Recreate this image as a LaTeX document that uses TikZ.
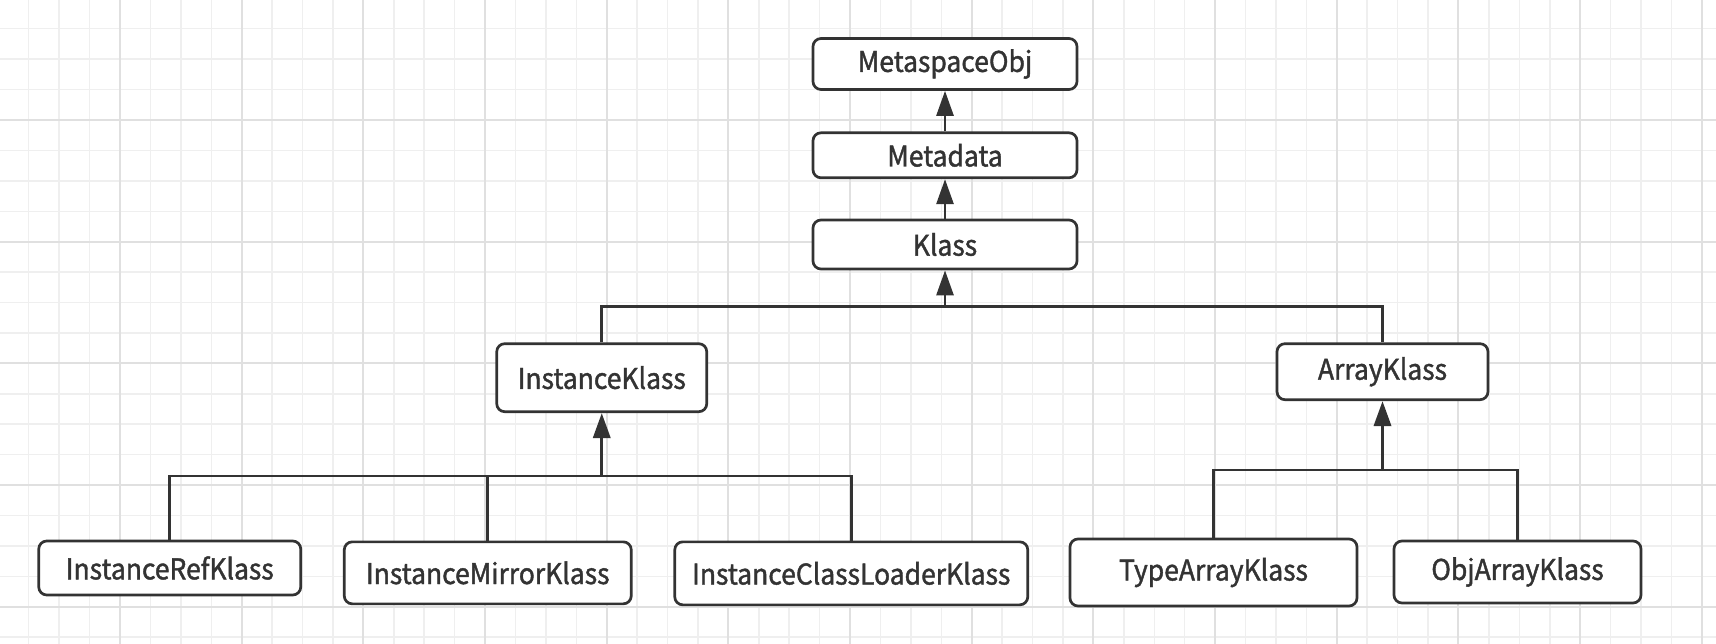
\documentclass[tikz,border=0pt]{standalone}
\usepackage{fontspec}
\newfontfamily\lblfont{Noto Sans CJK SC}[FakeBold=1.4,FakeStretch=0.93]
\usetikzlibrary{arrows.meta}
\definecolor{ink}{HTML}{333333}
\definecolor{gridminor}{HTML}{EFEFEF}
\definecolor{gridmajor}{HTML}{E0E0E0}
\begin{document}
\begin{tikzpicture}[x=1pt,y=-1pt,
  cls/.style={draw=ink, line width=2.7pt, rounded corners=8pt, fill=white, text=ink,
    font=\lblfont\fontsize{28.5}{32}\selectfont, inner sep=0pt},
  link/.style={draw=ink, line width=2.7pt},
  inh/.style={link, -{Triangle[length=25pt,width=17pt]}}]
\fill[white] (0,0) rectangle (1716,644);
\useasboundingbox (0,0) rectangle (1716,644);
\begin{scope}
\clip (0,0) rectangle (1716,644);
\foreach \k in {-4,...,53} {
  \pgfmathsetmacro\p{120+30.42*\k}
  \draw[gridminor, line width=1.5pt] (\p,0) -- (\p,644);
  \draw[gridminor, line width=1.5pt] (0,\p) -- (1716,\p);
}
\foreach \k in {-1,...,13} {
  \pgfmathsetmacro\p{120+121.68*\k}
  \draw[gridmajor, line width=2pt] (\p,0) -- (\p,644);
  \draw[gridmajor, line width=2pt] (0,\p) -- (1716,\p);
}
\end{scope}

\node[cls, minimum width=264pt, minimum height=51pt] (mso) at (945,64) {MetaspaceObj};
\node[cls, minimum width=264pt, minimum height=45pt] (md) at (945,155.3) {Metadata};
\node[cls, minimum width=264pt, minimum height=49pt] (kl) at (945,244.5) {Klass};
\node[cls, minimum width=210pt, minimum height=68pt] (ik) at (601.75,377.7) {InstanceKlass};
\node[cls, minimum width=211pt, minimum height=56pt] (ak) at (1382.5,371.7) {ArrayKlass};
\node[cls, minimum width=262pt, minimum height=54pt] (irk) at (169.75,568) {InstanceRefKlass};
\node[cls, minimum width=287pt, minimum height=62pt] (imk) at (487.75,572.85) {InstanceMirrorKlass};
\node[cls, minimum width=353pt, minimum height=63pt] (iclk) at (851.25,573.35) {InstanceClassLoaderKlass};
\node[cls, minimum width=287pt, minimum height=67pt] (tak) at (1213.5,572.5) {TypeArrayKlass};
\node[cls, minimum width=247pt, minimum height=62pt] (oak) at (1517.5,572) {ObjArrayKlass};

\coordinate (ky) at (0,306.7);
\coordinate (iy) at (0,476);
\coordinate (ay) at (0,470);
\coordinate (kbus) at (kl.south |- ky);
\coordinate (ibus) at (ik.south |- iy);
\coordinate (abus) at (ak.south |- ay);

\draw[inh] (md.north) -- (mso.south);
\draw[inh] (kl.north) -- (md.south);
\draw[link] (ik.north) |- (kbus) -| (ak.north);
\draw[inh] (kbus) -- (kl.south);
\draw[link] (irk.north) |- (ibus) -| (iclk.north);
\draw[link] (imk.north) -- (imk.north |- iy);
\draw[inh, line width=3.4pt] (ibus) -- (ik.south);
\draw[link] (tak.north) |- (abus) -| (oak.north);
\draw[inh, line width=3.4pt] (abus) -- (ak.south);
\end{tikzpicture}
\end{document}
